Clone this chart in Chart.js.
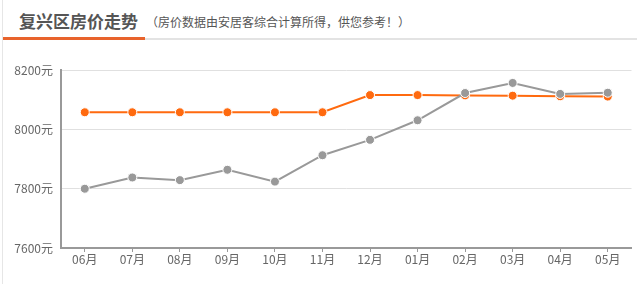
<!DOCTYPE html>
<html>
<head>
<meta charset="utf-8">
<script src="https://cdn.jsdelivr.net/npm/chart.js@4/dist/chart.umd.min.js"></script>
<style>
  html,body{margin:0;padding:0;background:#fff;width:637px;height:284px;overflow:hidden;font-family:"Noto Sans CJK SC","Noto Sans",sans-serif;}
  #frame{position:absolute;left:2px;top:0;width:635px;height:284px;border-left:1px solid #e6e6e6;}
  #title{position:absolute;left:19px;top:8px;font-size:17px;font-weight:bold;color:#555;white-space:nowrap;}
  #sub{position:absolute;left:146px;top:13px;font-size:12px;color:#555;white-space:nowrap;}
  #grayline{position:absolute;left:3px;top:38px;width:634px;height:2px;background:#e3e3e3;}
  #orangeline{position:absolute;left:3px;top:37px;width:142px;height:3px;background:#e8632c;}
  #wrap{position:absolute;left:0;top:55px;width:637px;height:229px;}
</style>
</head>
<body>
<div id="frame"></div>
<div id="title">复兴区房价走势</div>
<div id="sub">（房价数据由安居客综合计算所得，供您参考！）</div>
<div id="grayline"></div>
<div id="orangeline"></div>
<div id="wrap"><canvas id="c"></canvas></div>
<script>
const months = ["06月","07月","08月","09月","10月","11月","12月","01月","02月","03月","04月","05月"];
const districtPrice = [8058,8058,8058,8058,8058,8058,8116,8116,8115,8114,8112,8111];
const otherPrice = [7800,7838,7829,7864,7824,7913,7965,8031,8123,8157,8120,8124];
const yTicks = [7600,7800,8000,8200];

new Chart(document.getElementById('c'), {
  type: 'line',
  data: {
    labels: months,
    datasets: [
      {
        data: otherPrice,
        borderColor: '#999999',
        backgroundColor: '#999999',
        pointBackgroundColor: '#999999',
        pointBorderColor: '#ffffff',
        pointBorderWidth: 1,
        pointRadius: 4.5,
        borderWidth: 2,
        tension: 0,
        fill: false
      },
      {
        data: districtPrice,
        borderColor: '#ff6a0f',
        backgroundColor: '#ff6a0f',
        pointBackgroundColor: '#ff6a0f',
        pointBorderColor: '#ffffff',
        pointBorderWidth: 1,
        pointRadius: 4.5,
        borderWidth: 2,
        tension: 0,
        fill: false
      }
    ]
  },
  options: {
    responsive: true,
    maintainAspectRatio: false,
    animation: false,
    layout: { padding: { top: 0, left: 0, right: 0, bottom: 0 } },
    plugins: { legend: { display: false }, tooltip: { enabled: false } },
    scales: {
      x: {
        offset: true,
        grid: { drawOnChartArea: false, drawTicks: true, tickLength: 4, color: '#999', offset: false },
        border: { color: '#999', width: 2 },
        ticks: { color: '#666', font: { size: 12, family: '"Noto Sans CJK SC", sans-serif' }, padding: 0, maxRotation: 0 },
        afterFit: (s) => { s.height = 36; }
      },
      y: {
        min: 7600,
        max: 8200,
        afterBuildTicks: (s) => { s.ticks = yTicks.map(v => ({ value: v })); },
        grid: { color: '#e0e0e0', drawTicks: false, lineWidth: 1 },
        border: { color: '#999', width: 2 },
        ticks: { color: '#666', font: { size: 12, family: '"Noto Sans CJK SC", sans-serif' }, padding: 8, callback: (v) => v + '元' },
        afterFit: (s) => { s.width = 61; }
      }
    }
  }
});
</script>
</body>
</html>
